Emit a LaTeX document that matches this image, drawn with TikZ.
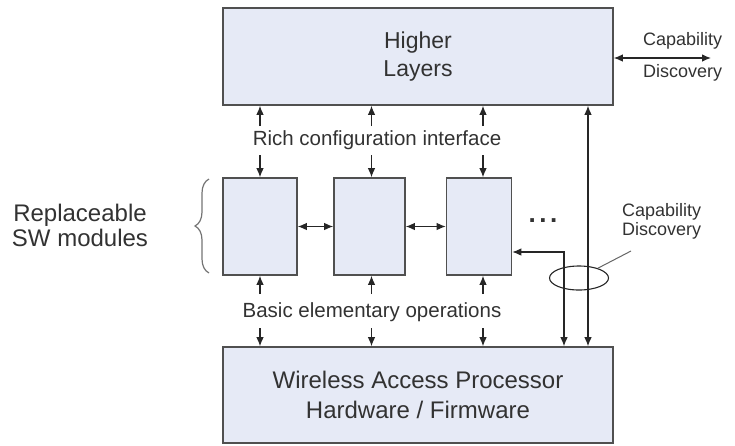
\documentclass[tikz,border=0pt]{standalone}
\usepackage{fontspec}
\setmainfont{Liberation Sans}
\usetikzlibrary{arrows.meta,shapes.geometric,decorations.pathreplacing}
\definecolor{boxfill}{RGB}{230,234,246}
\definecolor{boxline}{RGB}{80,80,80}
\definecolor{txt}{RGB}{50,50,50}
\tikzset{
  blockbox/.style={draw=boxline, line width=1.6pt, fill=boxfill, inner sep=0pt},
  conn/.style={draw=black!85, line width=1.1pt, -{Latex[length=9pt,width=7.5pt]}},
  dconn/.style={draw=black!85, line width=1.1pt, {Latex[length=9pt,width=7.5pt]}-{Latex[length=9pt,width=7.5pt]}},
  lbl/.style={text=txt, inner sep=0pt},
}
\begin{document}
\begin{tikzpicture}[x=1pt,y=-1pt]
\useasboundingbox (0,0) rectangle (735,445);
% main blocks
\node[blockbox, minimum width=390pt, minimum height=97pt] (HL) at (418,56.5) {};
\node[lbl, align=center, font=\fontsize{23}{28}\selectfont] (HLt) at (418,57) {Higher\\Layers};
\node[blockbox, minimum width=390pt, minimum height=96pt] (WAP) at (418,395) {};
\node[lbl, align=center, font=\fontsize{24}{30}\selectfont] (WAPt) at (418,395) {Wireless Access Processor\\Hardware / Firmware};
% modules
\node[blockbox, minimum width=74pt, minimum height=97pt] (M1) at (260,226.5) {};
\node[blockbox, minimum width=71pt, minimum height=97pt] (M2) at (369.5,226.5) {};
\node[blockbox, minimum width=65pt, minimum height=97pt] (M3) at (479,226.5) {};
\node[lbl, font=\fontsize{26}{26}\selectfont\bfseries] (dots) at (543,221) {.\kern3.5pt.\kern3.5pt.};
% labels
\node[lbl, font=\fontsize{20.5}{24}\selectfont] (rich) at (377,140) {Rich configuration interface};
\node[lbl, font=\fontsize{20.5}{24}\selectfont] (basic) at (372,312) {Basic elementary operations};
\node[lbl, align=center, font=\fontsize{24}{25}\selectfont] (repl) at (80,225) {Replaceable\\SW modules};
\node[lbl, align=left, anchor=west, font=\fontsize{18}{32}\selectfont] (capT) at (643,57) {Capability\\Discovery};
\node[lbl, align=left, anchor=west, font=\fontsize{18}{19}\selectfont] (capB) at (622,221) {Capability\\Discovery};
% column / row coordinates
\coordinate (a1) at (260,0);
\coordinate (a2) at (371.5,0);
\coordinate (a3) at (483,0);
\coordinate (rt1) at (0,126);
\coordinate (rt2) at (0,155);
\coordinate (rb1) at (0,294);
\coordinate (rb2) at (0,328);
% rich configuration interface / basic operations arrows
\foreach \a/\m in {a1/M1,a2/M2,a3/M3}{
  \draw[conn] (\a |- rt1) -- (\a |- HL.south);
  \draw[conn] (\a |- rt2) -- (\a |- \m.north);
  \draw[conn] (\a |- rb1) -- (\a |- \m.south);
  \draw[conn] (\a |- rb2) -- (\a |- WAP.north);
}
% between modules
\draw[dconn] (M1.east) -- (M2.west);
\draw[dconn] (M2.east) -- (M3.west);
% capability discovery paths
\coordinate (r1) at (564,252);
\coordinate (r2) at (588,0);
\draw[dconn] (M3.east |- r1) -| (WAP.north -| r1);
\draw[dconn] (HL.south -| r2) -- (WAP.north -| r2);
\coordinate (capEnd) at (711,58);
\draw[dconn] (HL.east |- capEnd) -- (capEnd);
% ellipse and leader
\node[draw=black!85, line width=1.1pt, ellipse, minimum width=59pt, minimum height=24pt, inner sep=0pt] (ell) at (579,278) {};
\coordinate (lead) at (631,251);
\draw[draw=black!60, line width=1pt] (ell) -- (lead);
% brace
\coordinate (brB) at (209,273);
\coordinate (brT) at (209,179);
\draw[draw=black!55, line width=1.2pt, decorate, decoration={brace, amplitude=14pt}] (brB) -- (brT);
\end{tikzpicture}
\end{document}
